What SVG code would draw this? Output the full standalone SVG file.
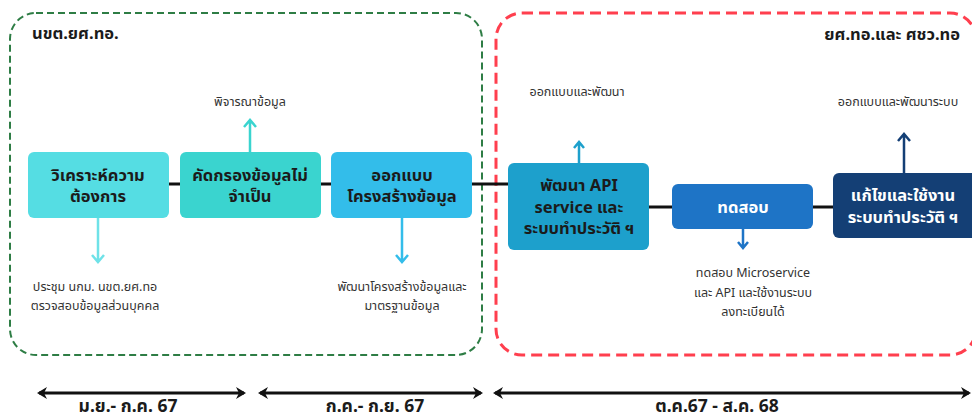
<svg xmlns="http://www.w3.org/2000/svg" width="972" height="414" viewBox="0 0 972 414">
<defs>
<style>
text{font-family:"Noto Sans","Noto Sans Thai","Liberation Sans",sans-serif;}
.nt{font-size:16.5px;font-weight:bold;fill:#1b1b1b;text-anchor:middle;}
.nw{font-size:16.5px;font-weight:bold;fill:#ffffff;text-anchor:middle;}
.lb{font-size:12.5px;fill:#333333;text-anchor:middle;}
.tt{font-size:16.5px;font-weight:bold;fill:#1b1b1b;}
.tl{font-size:17.5px;font-weight:bold;fill:#1b1b1b;text-anchor:middle;}
.ln{stroke:#111111;stroke-width:3;fill:none;}
.tm{stroke:#111111;stroke-width:3;fill:none;}
</style>
<marker id="ah" viewBox="0 0 10 12" refX="8" refY="6" markerWidth="10" markerHeight="12" markerUnits="userSpaceOnUse" orient="auto-start-reverse">
<path d="M0,0 L10,6 L0,12 L3,6 Z" fill="#111111"/>
</marker>
</defs>
<rect width="972" height="414" fill="#ffffff"/>

<g id="group-nkt">
<rect x="10" y="13" width="472" height="342" rx="26" fill="none" stroke="#2E7D45" stroke-width="2" stroke-dasharray="7,4"/>
<text class="tt" x="32" y="39">นขต.ยศ.ทอ.</text>
</g>
<g id="group-yst">
<rect x="496" y="13" width="480" height="342" rx="26" fill="none" stroke="#FF3F4E" stroke-width="3" stroke-dasharray="11,6"/>
<text class="tt" x="960" y="40" text-anchor="end">ยศ.ทอ.และ ศชว.ทอ</text>
</g>

<g id="connectors">
<line class="ln" x1="169" y1="184" x2="508" y2="184"/>
<line class="ln" x1="649" y1="207" x2="672" y2="207"/>
<line class="ln" x1="813" y1="207" x2="833" y2="207"/>
<path d="M250,152 V121 M244,127 L250,120 L256,127" fill="none" stroke="#3AD4CF" stroke-width="2.5"/>
<path d="M98,218 V261 M92,255 L98,262 L104,255" fill="none" stroke="#6FE2E8" stroke-width="2.5"/>
<path d="M402,218 V261 M396,255 L402,262 L408,255" fill="none" stroke="#33BDEA" stroke-width="2.5"/>
<path d="M579,163 V143 M574,148 L579,142 L584,148" fill="none" stroke="#1DA0CC" stroke-width="2.5"/>
<path d="M743,229 V247 M738,242 L743,248 L748,242" fill="none" stroke="#1E74C6" stroke-width="2.5"/>
<path d="M904,173 V135 M898,141 L904,134 L910,141" fill="none" stroke="#143F75" stroke-width="2.5"/>
</g>

<g id="n1">
<rect x="28" y="152" width="141" height="66" rx="6" fill="#55DDE3"/>
<text class="nt" x="98" y="181">วิเคราะห์ความ</text>
<text class="nt" x="98" y="202">ต้องการ</text>
</g>
<g id="n2">
<rect x="180" y="152" width="141" height="66" rx="6" fill="#3AD4CF"/>
<text class="nt" x="250" y="181">คัดกรองข้อมูลไม่</text>
<text class="nt" x="250" y="202">จำเป็น</text>
</g>
<g id="n3">
<rect x="331" y="152" width="141" height="66" rx="6" fill="#33BDEA"/>
<text class="nt" x="402" y="181">ออกแบบ</text>
<text class="nt" x="402" y="202">โครงสร้างข้อมูล</text>
</g>
<g id="n4">
<rect x="508" y="163" width="141" height="87" rx="6" fill="#1DA0CC"/>
<text class="nt" x="579" y="191">พัฒนา API</text>
<text class="nt" x="579" y="213">service และ</text>
<text class="nt" x="579" y="234">ระบบทำประวัติ ฯ</text>
</g>
<g id="n5">
<rect x="672" y="184" width="141" height="45" rx="6" fill="#1E74C6"/>
<text class="nw" x="743" y="213">ทดสอบ</text>
</g>
<g id="n6">
<rect x="833" y="173" width="145" height="65" rx="6" fill="#143F75"/>
<text class="nw" x="903" y="201">แก้ไขและใช้งาน</text>
<text class="nw" x="903" y="223">ระบบทำประวัติ ฯ</text>
</g>

<g id="labels">
<text class="lb" x="250" y="106">พิจารณาข้อมูล</text>
<text class="lb" x="95" y="291">ประชุม นกม. นขต.ยศ.ทอ</text>
<text class="lb" x="95" y="310">ตรวจสอบข้อมูลส่วนบุคคล</text>
<text class="lb" x="402" y="291">พัฒนาโครงสร้างข้อมูลและ</text>
<text class="lb" x="402" y="310">มาตรฐานข้อมูล</text>
<text class="lb" x="577" y="96">ออกแบบและพัฒนา</text>
<text class="lb" x="753" y="277">ทดสอบ Microservice</text>
<text class="lb" x="753" y="297">และ API และใช้งานระบบ</text>
<text class="lb" x="753" y="316">ลงทะเบียนได้</text>
<text class="lb" x="898" y="106">ออกแบบและพัฒนาระบบ</text>
</g>

<g id="timeline">
<line class="tm" x1="39" y1="393" x2="244" y2="393" marker-start="url(#ah)" marker-end="url(#ah)"/>
<line class="tm" x1="260" y1="393" x2="481" y2="393" marker-start="url(#ah)" marker-end="url(#ah)"/>
<line class="tm" x1="495" y1="393" x2="969" y2="393" marker-start="url(#ah)" marker-end="url(#ah)"/>
<text class="tl" x="128" y="412">ม.ย.- ก.ค. 67</text>
<text class="tl" x="375" y="412">ก.ค.- ก.ย. 67</text>
<text class="tl" x="717" y="412">ต.ค.67 - ส.ค. 68</text>
</g>
</svg>
